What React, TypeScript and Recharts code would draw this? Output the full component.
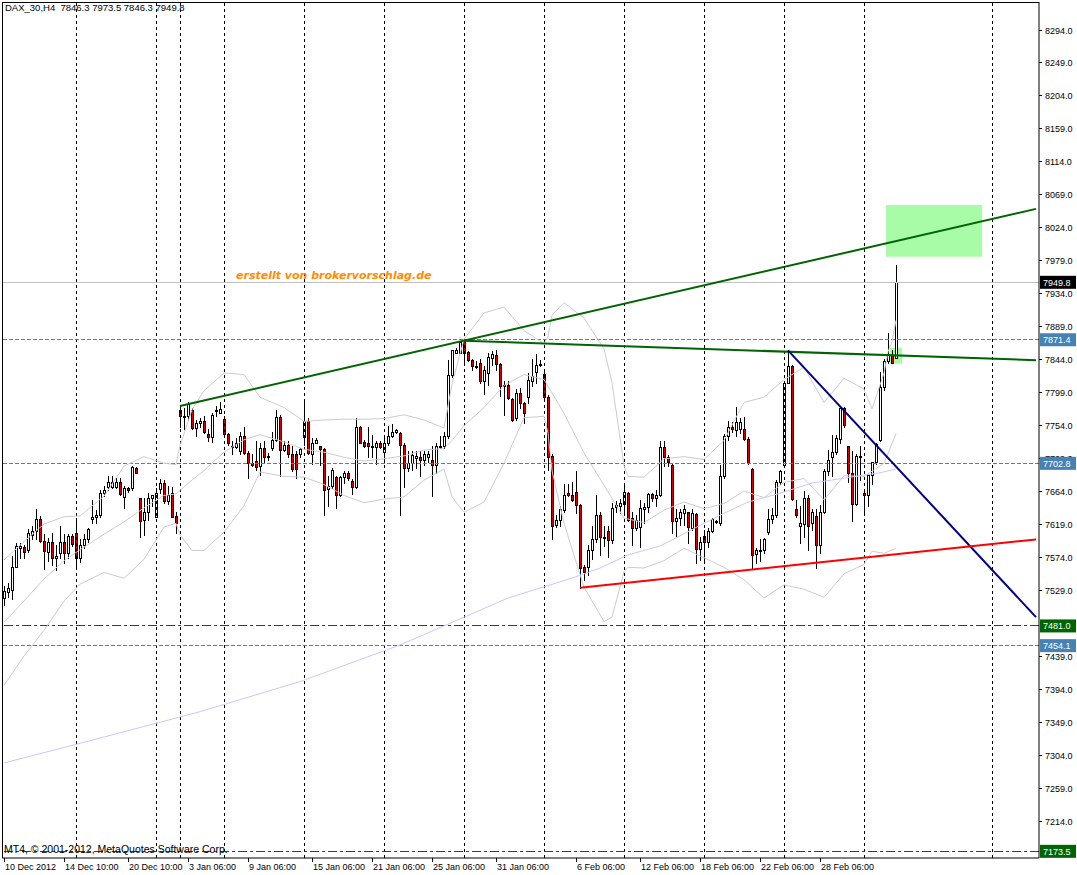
import React from 'react';
import { ComposedChart, Bar, Line, XAxis, YAxis, ReferenceLine, ReferenceArea } from 'recharts';

// ---- candle data (DAX_30, H4) ----
const opens = [
  7519,7527,7530,7561,7587,7589,7584,7605,7610,7627,7597,7582,7595,7574,7580,7595,7580,7604,7608,7574,
  7592,7599,7627,7630,7633,7662,7670,7671,7671,7678,7657,7669,7669,7696,7655,7626,7636,7655,7630,7668,
  7676,7651,7662,7631,7776,7766,7767,7776,7751,7758,7760,7743,7739,7774,7772,7763,7743,7727,7725,7719,
  7740,7717,7703,7706,7699,7724,7713,7724,7734,7766,7721,7728,7716,7715,7715,7739,7760,7716,7730,7726,
  7722,7668,7672,7684,7660,7684,7690,7679,7670,7753,7732,7730,7727,7725,7730,7718,7730,7740,7746,7744,
  7728,7696,7703,7710,7712,7708,7712,7708,7701,7725,7726,7740,7824,7854,7854,7870,7855,7844,7836,7840,
  7815,7826,7846,7851,7839,7810,7810,7790,7764,7799,7785,7794,7815,7827,7837,7825,7794,7713,7619,7626,
  7639,7662,7660,7664,7646,7562,7561,7585,7599,7633,7601,7610,7598,7643,7645,7647,7662,7628,7614,7616,
  7641,7643,7661,7655,7659,7725,7712,7701,7624,7628,7635,7636,7614,7634,7586,7604,7596,7610,7624,7621,
  7685,7740,7752,7748,7749,7749,7736,7695,7579,7584,7584,7609,7627,7633,7677,7700,7812,7836,7640,7618,
  7620,7655,7621,7631,7592,7636,7692,7712,7718,7736,7778,7726,7689,7648,7711,7662,7659,7687,7704,7735,
  7807,7843,7851,7846.3,
];
const highs = [
  7535,7539,7577,7594,7594,7592,7613,7617,7641,7631,7607,7601,7608,7592,7617,7607,7607,7607,7628,7599,
  7607,7614,7653,7639,7667,7672,7685,7685,7683,7683,7672,7670,7699,7698,7655,7655,7662,7660,7669,7681,
  7680,7672,7671,7637,7781,7778,7786,7778,7762,7765,7767,7749,7771,7781,7787,7767,7744,7733,7737,7746,
  7753,7719,7715,7733,7731,7733,7717,7746,7775,7769,7733,7733,7726,7720,7724,7787,7765,7737,7737,7727,
  7724,7685,7696,7686,7686,7693,7692,7681,7765,7754,7735,7752,7742,7733,7733,7742,7754,7757,7749,7745,
  7730,7719,7719,7719,7719,7719,7719,7726,7731,7740,7746,7844,7858,7860,7870,7871,7856,7845,7842,7845,
  7835,7853,7856,7857,7840,7815,7815,7792,7804,7805,7787,7826,7845,7852,7844,7827,7796,7715,7633,7644,
  7674,7674,7678,7692,7648,7564,7592,7618,7659,7636,7617,7618,7649,7651,7654,7676,7664,7637,7633,7653,
  7649,7663,7663,7666,7733,7733,7714,7703,7640,7640,7646,7637,7640,7635,7603,7612,7614,7628,7626,7701,
  7743,7761,7759,7779,7765,7766,7739,7696,7587,7599,7601,7640,7642,7680,7694,7815,7858,7837,7653,7644,
  7665,7660,7640,7640,7646,7695,7721,7742,7742,7781,7780,7727,7719,7716,7726,7664,7690,7705,7731,7828,
  7845,7880,7858,7973.5,
];
const lows = [
  7510,7521,7518,7561,7574,7574,7582,7599,7599,7596,7559,7569,7564,7557,7574,7567,7574,7590,7560,7568,
  7587,7596,7621,7622,7630,7658,7667,7669,7669,7660,7642,7664,7667,7690,7602,7605,7626,7644,7629,7662,
  7649,7648,7630,7608,7752,7749,7762,7749,7740,7753,7744,7733,7732,7767,7771,7739,7728,7715,7724,7715,
  7715,7683,7699,7694,7687,7705,7708,7721,7733,7685,7719,7712,7693,7683,7712,7728,7715,7702,7730,7701,
  7633,7644,7669,7642,7658,7676,7680,7661,7669,7730,7725,7712,7712,7702,7724,7703,7728,7739,7744,7633,
  7671,7692,7694,7696,7685,7701,7705,7658,7690,7724,7724,7737,7821,7853,7853,7839,7842,7830,7833,7812,
  7798,7810,7837,7830,7795,7769,7790,7761,7762,7778,7758,7785,7808,7812,7835,7790,7694,7599,7616,7617,
  7637,7658,7652,7635,7533,7544,7551,7572,7596,7578,7590,7575,7594,7637,7635,7633,7624,7592,7612,7589,
  7621,7637,7651,7645,7658,7699,7699,7608,7603,7619,7619,7594,7612,7567,7571,7567,7589,7609,7621,7619,
  7683,7735,7746,7740,7744,7735,7702,7558,7567,7569,7581,7607,7621,7630,7675,7698,7812,7653,7630,7594,
  7603,7585,7612,7560,7581,7635,7687,7686,7715,7730,7753,7677,7624,7646,7680,7633,7644,7674,7702,7733,
  7803,7840,7840,7846.3,
];
const closes = [
  7528,7533,7561,7590,7590,7582,7608,7610,7627,7597,7583,7595,7574,7577,7595,7580,7604,7593,7574,7592,
  7599,7613,7630,7633,7662,7667,7677,7677,7678,7661,7669,7666,7698,7690,7624,7636,7655,7659,7662,7676,
  7651,7659,7630,7621,7767,7768,7784,7751,7758,7761,7745,7739,7769,7775,7777,7743,7731,7725,7730,7740,
  7717,7703,7700,7698,7724,7712,7711,7735,7766,7721,7728,7716,7695,7695,7722,7760,7717,7730,7734,7722,
  7666,7672,7694,7660,7684,7690,7683,7670,7752,7731,7727,7726,7725,7731,7725,7730,7740,7746,7748,7728,
  7696,7703,7714,7713,7708,7715,7715,7701,7726,7727,7740,7824,7857,7858,7869,7854,7844,7835,7834,7815,
  7830,7848,7852,7839,7808,7808,7792,7762,7799,7785,7772,7816,7822,7837,7838,7794,7712,7618,7626,7640,
  7660,7660,7653,7646,7560,7554,7585,7599,7633,7602,7603,7598,7642,7646,7649,7664,7626,7614,7625,7642,
  7643,7661,7655,7660,7725,7711,7704,7624,7628,7636,7640,7616,7635,7586,7596,7595,7611,7627,7623,7685,
  7740,7752,7749,7759,7759,7736,7703,7578,7585,7585,7599,7627,7633,7678,7692,7812,7835,7654,7633,7622,
  7655,7617,7636,7592,7636,7692,7708,7718,7737,7778,7755,7689,7648,7713,7713,7659,7687,7704,7729,7807,
  7843,7851,7840,7949.8,
];

// Bollinger bands, read at sparse bars: [barIndex, price]
const bbUpper: [number, number][] = [
  [0,7571],[5,7596],[10,7620],[15,7630],[19,7631],[25,7658],[30,7699],[35,7712],[40,7703],[43,7701],
  [44,7727],[47,7776],[50,7802],[55,7826],[60,7824],[64,7793],[70,7779],[75,7760],[80,7762],[85,7763],
  [90,7763],[95,7764],[100,7769],[105,7762],[110,7751],[112,7811],[115,7872],[120,7908],[125,7916],
  [130,7884],[135,7866],[136,7876],[137,7905],[140,7922],[145,7901],[150,7859],[152,7813],[155,7700],
  [156,7685],[160,7684],[165,7709],[170,7712],[175,7708],[180,7734],[185,7786],[190,7793],[195,7817],
  [200,7834],[205,7786],[210,7819],[215,7804],[217,7777],[220,7826],[221,7855],[222,7869],[223,7898],
];
const bbMiddle: [number, number][] = [
  [0,7486],[5,7515],[10,7545],[15,7570],[19,7585],[25,7606],[30,7623],[35,7642],[40,7659],[43,7661],
  [44,7666],[47,7680],[50,7693],[55,7718],[60,7735],[64,7742],[70,7732],[75,7722],[80,7718],[85,7711],
  [90,7706],[95,7709],[100,7713],[105,7721],[110,7723],[112,7734],[115,7754],[120,7779],[125,7809],
  [130,7824],[135,7817],[137,7799],[140,7771],[145,7717],[150,7673],[155,7628],[160,7622],[165,7639],
  [170,7650],[175,7641],[180,7648],[185,7665],[190,7656],[195,7677],[200,7682],[205,7653],[210,7686],
  [215,7685],[220,7703],[223,7743],
];
const bbLower: [number, number][] = [
  [0,7400],[5,7440],[10,7475],[15,7515],[19,7538],[25,7554],[30,7546],[35,7572],[40,7616],[43,7621],
  [44,7605],[47,7584],[50,7584],[55,7609],[60,7645],[64,7691],[70,7685],[75,7684],[80,7674],[85,7659],
  [90,7649],[95,7654],[100,7657],[105,7680],[110,7695],[112,7657],[115,7636],[120,7650],[125,7703],
  [130,7765],[135,7767],[136,7744],[137,7693],[140,7621],[145,7534],[150,7487],[152,7493],[155,7555],
  [156,7561],[160,7560],[165,7570],[170,7587],[175,7574],[180,7561],[185,7544],[190,7519],[195,7537],
  [200,7531],[205,7520],[210,7552],[215,7565],[217,7583],[220,7580],[223,7587],
];

// long moving average (read at sparse bars)
const maPoints: [number, number][] = [
  [0,7294],[24,7328],[49,7364],[74,7405],[99,7455],[126,7519],[143,7548],[149,7560],[156,7578],
  [164,7590],[179,7632],[186,7650],[194,7662],[202,7676],[219,7690],[223,7695],
];

// trend lines: [barIndex, price]
const trendUpper: [number, number][] = [[44, 7781], [258, 8050]];
const trendFlat: [number, number][] = [[115, 7870], [258, 7843.6]];
const trendDown: [number, number][] = [[196, 7857], [258, 7493]];
const trendSupport: [number, number][] = [[144, 7533], [258, 7599]];

// axis ticks
const priceTicks = [8294,8249,8204,8159,8114,8069,8024,7979,7934,7889,7844,7799,7754,7709,7664,7619,7574,7529,7439,7394,7349,7304,7259,7214];
const timeTickIdx = [0, 15, 31, 46, 61, 77, 92, 107, 123, 143, 159, 174, 189, 204];
const timeTickLabels = ['10 Dec 2012','14 Dec 10:00','20 Dec 10:00','3 Jan 06:00','9 Jan 06:00','15 Jan 06:00','21 Jan 06:00','25 Jan 06:00','31 Jan 06:00','6 Feb 06:00','12 Feb 06:00','18 Feb 06:00','22 Feb 06:00','28 Feb 06:00'];
const separatorIdx = [18, 38, 44, 55, 75, 95, 115, 135, 155, 175, 195, 215, 247];

// horizontal levels
const bidPrice = 7949.8;
const blueLevels = [7871.4, 7702.8, 7454.1];
const greenLevels = [7481.0, 7173.5];

// zones
const zoneBig = { x1: 221, x2: 244, y1: 7984.7, y2: 8055.3 };
const zoneSmall = { x1: 222, x2: 224, y1: 7838.8, y2: 7860.6 };

const SLOTS = 259;
const Y_MIN = 7164.4;
const Y_MAX = 8332.2;
const FONT = '"Liberation Sans", Arial, sans-serif';

const tagColor: Record<string, string> = {};
tagColor[bidPrice.toFixed(1)] = '#000000';
blueLevels.forEach((v) => { tagColor[v.toFixed(1)] = '#4682b4'; });
greenLevels.forEach((v) => { tagColor[v.toFixed(1)] = '#006400'; });
const allYTicks = [...priceTicks, bidPrice, ...blueLevels, ...greenLevels];

const lookup = (pts: [number, number][], i: number) => {
  const f = pts.find((p) => p[0] === i);
  return f ? f[1] : null;
};

const rows = Array.from({ length: SLOTS }, (_, i) => {
  const r: any = { i };
  if (i < opens.length) {
    r.o = opens[i]; r.h = highs[i]; r.l = lows[i]; r.c = closes[i];
    r.range = [lows[i], highs[i]];
  }
  r.bu = lookup(bbUpper, i);
  r.bm = lookup(bbMiddle, i);
  r.bl = lookup(bbLower, i);
  r.ma = lookup(maPoints, i);
  r.t1 = lookup(trendUpper, i);
  r.t2 = lookup(trendFlat, i);
  r.t3 = lookup(trendDown, i);
  r.t4 = lookup(trendSupport, i);
  return r;
});

const Candle = (props: any) => {
  const { x, y, width, height, payload } = props;
  if (!payload || payload.o == null) return null;
  const top = Math.min(y, y + height);
  const bot = Math.max(y, y + height);
  const span = payload.h - payload.l;
  const k = span > 0 ? (bot - top) / span : 0;
  const py = (v: number) => top + (payload.h - v) * k;
  const cx = Math.floor(x + width / 2) + 0.5;
  const yo = py(payload.o);
  const yc = py(payload.c);
  const bTop = Math.round(Math.min(yo, yc)) + 0.5;
  const bBot = Math.max(Math.round(Math.max(yo, yc)) + 0.5, bTop + 1);
  const up = payload.c >= payload.o;
  return (
    <g>
      <line x1={cx} x2={cx} y1={Math.round(top)} y2={Math.round(bot) + 1} stroke="#000" strokeWidth={1} shapeRendering="crispEdges" />
      <rect x={cx - 1} y={bTop} width={2} height={bBot - bTop} fill={up ? '#ffffff' : '#d40000'} stroke="#000" strokeWidth={1} shapeRendering="crispEdges" />
    </g>
  );
};

const XTick = (props: any) => {
  const { x, y, payload } = props;
  const idx = timeTickIdx.indexOf(payload.value);
  const label = idx >= 0 ? timeTickLabels[idx] : '';
  return (
    <g>
      <line x1={x} x2={x} y1={y} y2={y + 4} stroke="#000" strokeWidth={1} shapeRendering="crispEdges" />
      <text x={x + 1} y={y + 12} fontSize={9} fontFamily={FONT} fill="#000">{label}</text>
    </g>
  );
};

const YTick = (props: any) => {
  const { x, y, payload } = props;
  const v = Number(payload.value);
  const key = v.toFixed(1);
  const bg = tagColor[key];
  if (bg) {
    return (
      <g>
        <rect x={x + 1} y={y - 6.5} width={36} height={13} fill={bg} />
        <text x={x + 4} y={y + 3.5} fontSize={9} fontFamily={FONT} fill="#fff">{key}</text>
      </g>
    );
  }
  return (
    <g>
      <line x1={x} x2={x + 3} y1={y} y2={y} stroke="#000" strokeWidth={1} shapeRendering="crispEdges" />
      <text x={x + 6} y={y + 3.5} fontSize={9} fontFamily={FONT} fill="#000">{key}</text>
    </g>
  );
};

export default function App() {
  return (
    <div style={{ position: 'absolute', left: 0, top: 0, width: 1077, height: 875, background: '#fff' }}>
      <ComposedChart
        width={1077}
        height={875}
        data={rows}
        margin={{ top: 2, right: 0, bottom: 0, left: 2 }}
        barCategoryGap={0}
      >
        <XAxis
          dataKey="i"
          type="category"
          ticks={timeTickIdx}
          interval={0}
          height={17}
          padding={{ left: 0, right: 1 }}
          axisLine={{ stroke: '#000' }}
          tickLine={false}
          tickSize={0}
          tickMargin={0}
          tick={<XTick />}
        />
        <YAxis
          orientation="right"
          type="number"
          domain={[Y_MIN, Y_MAX]}
          allowDataOverflow
          ticks={allYTicks}
          interval={0}
          width={38}
          axisLine={{ stroke: '#000' }}
          tickLine={false}
          tickSize={0}
          tickMargin={0}
          tick={<YTick />}
        />

        {separatorIdx.map((s) => (
          <ReferenceLine key={'sep' + s} x={s} stroke="#000" strokeDasharray="3 3" strokeWidth={1} shapeRendering="crispEdges" />
        ))}

        <ReferenceArea x1={zoneBig.x1} x2={zoneBig.x2} y1={zoneBig.y1} y2={zoneBig.y2} fill="#a8fca8" fillOpacity={1} stroke="none" />
        <ReferenceArea x1={zoneSmall.x1} x2={zoneSmall.x2} y1={zoneSmall.y1} y2={zoneSmall.y2} fill="#a8fca8" fillOpacity={1} stroke="none" />

        <ReferenceLine y={bidPrice} stroke="#c0c0c0" strokeWidth={1} shapeRendering="crispEdges" />
        {blueLevels.map((v) => (
          <ReferenceLine key={'b' + v} y={v} stroke="#4682b4" strokeDasharray="4 2" strokeWidth={1} shapeRendering="crispEdges" />
        ))}
        {greenLevels.map((v) => (
          <ReferenceLine key={'g' + v} y={v} stroke="#006400" strokeDasharray="9 3 3 3" strokeWidth={1} shapeRendering="crispEdges" />
        ))}

        <Line dataKey="bu" stroke="#cccccc" strokeWidth={1} dot={false} connectNulls isAnimationActive={false} />
        <Line dataKey="bm" stroke="#cccccc" strokeWidth={1} dot={false} connectNulls isAnimationActive={false} />
        <Line dataKey="bl" stroke="#cccccc" strokeWidth={1} dot={false} connectNulls isAnimationActive={false} />
        <Line dataKey="ma" stroke="#c8c8ff" strokeWidth={1} dot={false} connectNulls isAnimationActive={false} />

        <Bar dataKey="range" shape={<Candle />} isAnimationActive={false} />

        <Line dataKey="t1" stroke="#006400" strokeWidth={2} dot={false} connectNulls isAnimationActive={false} />
        <Line dataKey="t2" stroke="#006400" strokeWidth={2} dot={false} connectNulls isAnimationActive={false} />
        <Line dataKey="t3" stroke="#000080" strokeWidth={2} dot={false} connectNulls isAnimationActive={false} />
        <Line dataKey="t4" stroke="#ff0000" strokeWidth={2} dot={false} connectNulls isAnimationActive={false} />
      </ComposedChart>

      <div style={{ position: 'absolute', left: 2, top: 2, width: 1037, height: 856, borderLeft: '1px solid #000', borderTop: '1px solid #000', pointerEvents: 'none', boxSizing: 'border-box' }} />
      <div style={{ position: 'absolute', left: 5, top: 3, fontFamily: FONT, fontSize: 9.5, lineHeight: '10px', whiteSpace: 'pre', color: '#000' }}>
        {'DAX_30,H4  7846.3 7973.5 7846.3 7949.8'}
      </div>
      <div style={{ position: 'absolute', left: 236, top: 270, fontFamily: '"DejaVu Sans", sans-serif', fontSize: 11, lineHeight: '12px', fontWeight: 'bold', fontStyle: 'italic', color: '#ff8c00', whiteSpace: 'pre' }}>
        erstellt von brokervorschlag.de
      </div>
      <div style={{ position: 'absolute', left: 4, top: 844, fontFamily: FONT, fontSize: 10.5, lineHeight: '11px', whiteSpace: 'pre', color: '#000' }}>
        MT4, © 2001-2012, MetaQuotes Software Corp.
      </div>
    </div>
  );
}
